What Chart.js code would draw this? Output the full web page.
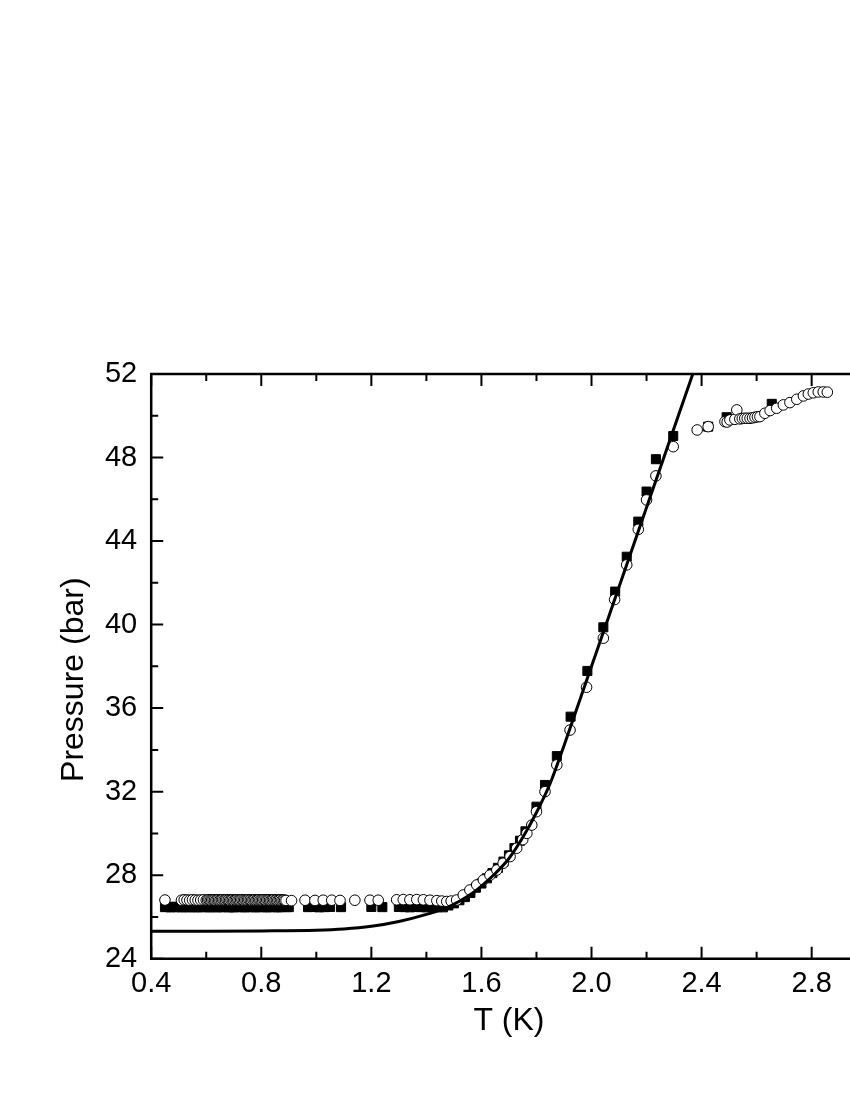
<!DOCTYPE html>
<html>
<head>
<meta charset="utf-8">
<script src="https://cdn.jsdelivr.net/npm/chart.js@4/dist/chart.umd.min.js"></script>
<style>
  html, body { margin: 0; padding: 0; background: #fff; overflow: hidden; }
  #wrap { position: absolute; left: 0; top: 0; width: 880px; height: 1100px; }
</style>
</head>
<body>
<div id="wrap"><canvas id="c" width="880" height="1100"></canvas></div>
<script>
// ---------- data ----------
const xTickValues = [0.4, 0.8, 1.2, 1.6, 2.0, 2.4, 2.8];
const xTickLabels = ['0.4', '0.8', '1.2', '1.6', '2.0', '2.4', '2.8'];
const xMinorTicks = [0.6, 1.0, 1.4, 1.8, 2.2, 2.6, 3.0];
const yTickValues = [24, 28, 32, 36, 40, 44, 48, 52];
const yTickLabels = ['24', '28', '32', '36', '40', '44', '48', '52'];
const yMinorTicks = [26, 30, 34, 38, 42, 46, 50];

// filled squares
const squareT = [
  0.45, 0.46, 0.47, 0.48, 0.49, 0.50, 0.51, 0.52, 0.53, 0.54, 0.55, 0.56, 0.57, 0.58, 0.59, 0.60,
  0.61, 0.62, 0.63, 0.64, 0.65, 0.66, 0.67, 0.68, 0.69, 0.70, 0.71, 0.72, 0.73, 0.74, 0.75, 0.76,
  0.77, 0.78, 0.79, 0.80, 0.81, 0.82, 0.83, 0.84, 0.85, 0.86, 0.87, 0.88, 0.89, 0.90,
  0.97, 0.99, 1.01, 1.03, 1.05, 1.09, 1.20, 1.24,
  1.30, 1.32, 1.34, 1.36, 1.38, 1.40, 1.42, 1.44, 1.46,
  1.48, 1.50, 1.52, 1.54, 1.56, 1.58, 1.60, 1.62, 1.64, 1.66, 1.68, 1.70, 1.72, 1.74, 1.76,
  1.800, 1.831, 1.874, 1.924, 1.985, 2.043, 2.086, 2.128, 2.170, 2.200, 2.234, 2.297,
  2.424, 2.491, 2.655
];
const squareP = [
  26.47, 26.48, 26.46, 26.47, 26.49, 26.47, 26.46, 26.48, 26.47, 26.46, 26.48, 26.47, 26.46, 26.47, 26.48, 26.47,
  26.46, 26.47, 26.48, 26.46, 26.47, 26.47, 26.48, 26.46, 26.47, 26.46, 26.47, 26.48, 26.47, 26.46, 26.47, 26.48,
  26.47, 26.46, 26.47, 26.48, 26.47, 26.46, 26.47, 26.48, 26.47, 26.46, 26.47, 26.48, 26.47, 26.47,
  26.47, 26.48, 26.46, 26.47, 26.48, 26.47, 26.48, 26.47,
  26.48, 26.47, 26.46, 26.48, 26.47, 26.46, 26.48, 26.47, 26.46,
  26.55, 26.65, 26.80, 26.95, 27.15, 27.40, 27.60, 27.85, 28.10, 28.35, 28.65, 28.95, 29.30, 29.65, 30.10,
  31.28, 32.32, 33.70, 35.59, 37.78, 39.87, 41.58, 43.25, 44.93, 46.37, 47.92, 49.03,
  49.48, 49.93, 50.57
];

// open circles
const circleT = [
  0.45, 0.51, 0.52, 0.53, 0.54, 0.55, 0.56, 0.57, 0.58, 0.59, 0.60, 0.605, 0.61, 0.615, 0.62, 0.625,
  0.63, 0.635, 0.64, 0.645, 0.65, 0.655, 0.66, 0.665, 0.67, 0.675, 0.68, 0.685, 0.69, 0.695, 0.70,
  0.705, 0.71, 0.715, 0.72, 0.725, 0.73, 0.735, 0.74, 0.745, 0.75, 0.755, 0.76, 0.765, 0.77, 0.775,
  0.78, 0.785, 0.79, 0.795, 0.80, 0.805, 0.81, 0.815, 0.82, 0.825, 0.83, 0.835, 0.84, 0.845, 0.85,
  0.855, 0.86, 0.865, 0.87, 0.875, 0.88, 0.885, 0.89, 0.91,
  0.959, 0.995, 1.025, 1.056, 1.086, 1.140, 1.195, 1.225,
  1.292, 1.316, 1.340, 1.365, 1.389, 1.413, 1.438, 1.456, 1.474, 1.490,
  1.510, 1.534, 1.558, 1.583, 1.607, 1.631, 1.656, 1.679, 1.704, 1.728, 1.750, 1.765, 1.783,
  1.800, 1.831, 1.874, 1.922, 1.982, 2.043, 2.084, 2.128, 2.170, 2.200, 2.234, 2.297,
  2.384, 2.424, 2.485, 2.493, 2.503, 2.521, 2.528, 2.539, 2.548, 2.557, 2.566, 2.576, 2.585,
  2.594, 2.603, 2.612, 2.630, 2.649, 2.673, 2.697, 2.721, 2.746, 2.770, 2.788, 2.806, 2.824,
  2.842, 2.857
];
const circleP = [
  26.81, 26.80, 26.82, 26.81, 26.80, 26.82, 26.81, 26.80, 26.81, 26.82, 26.80, 26.81, 26.82, 26.80, 26.81, 26.82,
  26.81, 26.80, 26.82, 26.81, 26.80, 26.81, 26.82, 26.80, 26.81, 26.82, 26.81, 26.80, 26.81, 26.82, 26.80,
  26.81, 26.82, 26.81, 26.80, 26.81, 26.82, 26.80, 26.81, 26.80, 26.81, 26.82, 26.81, 26.80, 26.81, 26.82,
  26.80, 26.81, 26.82, 26.81, 26.80, 26.81, 26.82, 26.80, 26.81, 26.82, 26.81, 26.80, 26.81, 26.82, 26.80,
  26.81, 26.80, 26.81, 26.82, 26.80, 26.81, 26.80, 26.79, 26.78,
  26.80, 26.79, 26.80, 26.80, 26.79, 26.80, 26.80, 26.80,
  26.82, 26.83, 26.82, 26.83, 26.82, 26.80, 26.78, 26.76, 26.74, 26.76,
  26.81, 27.05, 27.29, 27.53, 27.77, 28.00, 28.25, 28.57, 28.89, 29.29, 29.70, 30.00, 30.40,
  31.04, 32.00, 33.28, 34.95, 37.00, 39.35, 41.20, 42.86, 44.56, 45.97, 47.12, 48.52,
  49.32, 49.48, 49.72, 49.70, 49.80, 49.83, 50.28, 49.85, 49.87, 49.88, 49.88, 49.88, 49.90,
  49.93, 49.95, 49.96, 50.12, 50.25, 50.36, 50.52, 50.63, 50.79, 50.95, 51.04, 51.10, 51.14,
  51.14, 51.13
];

// solid theory line
const lineT = [0.4, 0.6, 0.8, 1.0, 1.1, 1.2, 1.3, 1.4, 1.474, 1.52, 1.56, 1.6, 1.65, 1.7, 1.75, 1.8, 1.85, 1.9, 1.95, 2.0, 2.092, 2.368];
const lineP = [25.32, 25.32, 25.33, 25.36, 25.42, 25.55, 25.78, 26.12, 26.45, 26.75, 27.07, 27.48, 28.08, 28.80, 29.80, 31.00, 32.40, 34.20, 36.10, 38.00, 41.50, 52.00];

// ---------- build ----------
const toPts = (xs, ys) => xs.map((x, i) => ({ x: x, y: ys[i] }));
const FONT = '"Liberation Sans", Arial, sans-serif';

const frameTicks = {
  id: 'frameTicks',
  afterDraw(chart) {
    const { ctx, chartArea: a, scales } = chart;
    const xs = scales.x, ys = scales.y;
    ctx.save();
    ctx.strokeStyle = '#000';
    ctx.lineWidth = 2.5;
    ctx.lineCap = 'butt';
    ctx.beginPath();
    ctx.moveTo(a.left, a.top); ctx.lineTo(a.left, a.bottom);
    ctx.moveTo(a.left - 1.25, a.bottom); ctx.lineTo(a.right, a.bottom);
    ctx.moveTo(a.left - 1.25, a.top); ctx.lineTo(a.right, a.top);
    ctx.moveTo(a.right, a.top); ctx.lineTo(a.right, a.bottom);
    ctx.stroke();
    ctx.lineWidth = 2;
    ctx.beginPath();
    const major = 12, minor = 7;
    xTickValues.forEach(v => {
      const p = xs.getPixelForValue(v);
      ctx.moveTo(p, a.bottom); ctx.lineTo(p, a.bottom - major);
      ctx.moveTo(p, a.top); ctx.lineTo(p, a.top + major);
    });
    xMinorTicks.forEach(v => {
      const p = xs.getPixelForValue(v);
      ctx.moveTo(p, a.bottom); ctx.lineTo(p, a.bottom - minor);
      ctx.moveTo(p, a.top); ctx.lineTo(p, a.top + minor);
    });
    yTickValues.forEach(v => {
      const p = ys.getPixelForValue(v);
      ctx.moveTo(a.left, p); ctx.lineTo(a.left + major, p);
      ctx.moveTo(a.right, p); ctx.lineTo(a.right - major, p);
    });
    yMinorTicks.forEach(v => {
      const p = ys.getPixelForValue(v);
      ctx.moveTo(a.left, p); ctx.lineTo(a.left + minor, p);
      ctx.moveTo(a.right, p); ctx.lineTo(a.right - minor, p);
    });
    ctx.stroke();
    ctx.restore();
  }
};

new Chart(document.getElementById('c'), {
  type: 'scatter',
  data: {
    datasets: [
      {
        label: 'fit',
        data: toPts(lineT, lineP),
        showLine: true,
        borderColor: '#000',
        borderWidth: 3,
        pointRadius: 0,
        cubicInterpolationMode: 'monotone',
        order: 0
      },
      {
        label: 'open',
        data: toPts(circleT, circleP),
        pointStyle: 'circle',
        pointRadius: 5.3,
        pointBorderWidth: 1,
        pointBorderColor: '#000',
        pointBackgroundColor: '#fff',
        showLine: false,
        order: 1
      },
      {
        label: 'filled',
        data: toPts(squareT, squareP),
        pointStyle: 'rect',
        pointRadius: 6.4,
        pointBorderWidth: 1,
        pointBorderColor: '#000',
        pointBackgroundColor: '#000',
        showLine: false,
        order: 2
      }
    ]
  },
  options: {
    responsive: false,
    animation: false,
    devicePixelRatio: 1,
    layout: { padding: { top: 374, right: 13.3, bottom: 0, left: 0 } },
    plugins: { legend: { display: false }, tooltip: { enabled: false } },
    scales: {
      x: {
        type: 'linear',
        position: 'bottom',
        min: 0.4,
        max: 3.0,
        grid: { display: false, drawTicks: false },
        border: { display: false },
        afterBuildTicks: s => { s.ticks = xTickValues.map(v => ({ value: v })); },
        afterFit: s => { s.height = 141.3; },
        ticks: {
          color: '#000',
          font: { family: FONT, size: 29 },
          padding: 8,
          maxRotation: 0,
          autoSkip: false,
          callback: (v, i) => xTickLabels[i]
        },
        title: {
          display: true,
          text: 'T (K)',
          color: '#000',
          font: { family: FONT, size: 32 },
          padding: { top: 0, bottom: 60 }
        }
      },
      y: {
        type: 'linear',
        position: 'left',
        min: 24,
        max: 52,
        grid: { display: false, drawTicks: false },
        border: { display: false },
        afterBuildTicks: s => { s.ticks = yTickValues.map(v => ({ value: v })); },
        afterFit: s => { s.width = 151.2; },
        ticks: {
          color: '#000',
          font: { family: FONT, size: 29 },
          padding: 14,
          autoSkip: false,
          callback: (v, i) => yTickLabels[i]
        },
        title: {
          display: true,
          text: 'Pressure (bar)   ',
          color: '#000',
          font: { family: FONT, size: 32 },
          padding: { top: 55, bottom: 0 }
        }
      }
    }
  },
  plugins: [frameTicks]
});
</script>
</body>
</html>
